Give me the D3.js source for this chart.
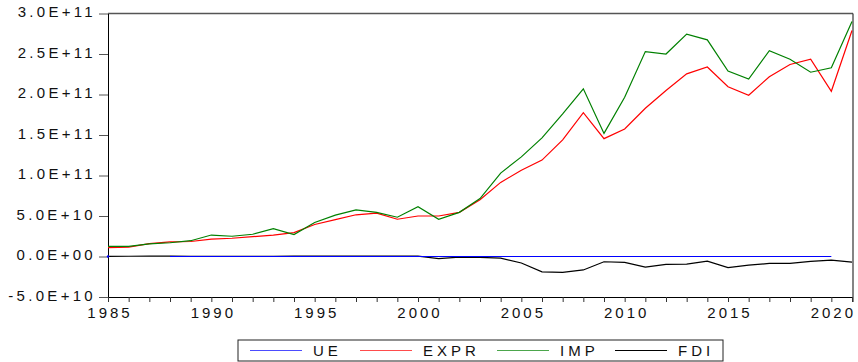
<!DOCTYPE html>
<html>
<head>
<meta charset="utf-8">
<script src="https://cdn.jsdelivr.net/npm/d3@7"></script>
<style>
  body { margin: 0; background: #fff; }
  svg text { font-family: Arial, "Liberation Sans", sans-serif; fill: #111; }
</style>
</head>
<body>
<svg id="chart" width="858" height="362"></svg>
<script>
// data (values in units, billions * 1e9)
var years = [1985, 1986, 1987, 1988, 1989, 1990, 1991, 1992, 1993, 1994, 1995, 1996,
  1997, 1998, 1999, 2000, 2001, 2002, 2003, 2004, 2005, 2006, 2007, 2008, 2009, 2010,
  2011, 2012, 2013, 2014, 2015, 2016, 2017, 2018, 2019, 2020, 2021];

var ue = [9.7, null, null, 10.2, 9.8, 9.5, 9.6, 10.1, 10.4, 10.6, 10.8, 10.9,
  11.0, 10.7, 10.3, 9.9, 9.6, 9.2, 8.8, 8.4, 8.1, 7.9, 7.6, 7.2, 7.0, 6.8,
  6.6, 6.5, 6.3, 6.2, 6.1, 6.0, 5.9, 5.8, 5.7, 5.9, null];

var expr = [11, 11.5, 16, 18, 18.5, 21.5, 22.5, 24.5, 26.5, 29.5, 39.5, 45.5,
  51.5, 53.5, 46, 50, 50, 54.5, 70, 91.5, 106.5, 119, 144, 177.5, 145.5, 157.5,
  183, 205, 225.5, 234, 209.5, 199, 222, 237, 243.5, 204, 279];

var imp = [12.5, 12.5, 15.5, 17, 19.5, 26.5, 25, 27.5, 34.5, 27, 42, 51,
  57.5, 54.5, 48.5, 61.5, 46, 54.5, 71.5, 103, 123, 146.5, 176, 207, 152, 196.5,
  253, 250, 274.5, 267.5, 229, 219, 254, 243.5, 227.5, 233, 290];

var fdi = [0.2, 0.3, 0.4, 0.4, 0.1, 0.1, 0.1, 0.2, 0.3, 0.4, 0.5, 0.5,
  0.6, 0.5, 0.6, 0.5, -2.5, -0.8, -1.2, -2, -8, -18.9, -19.5, -16.6, -6.5, -7.2,
  -13, -9.8, -9.4, -5.8, -13.8, -10.6, -8.6, -8.5, -6.1, -4.5, -6.9];

var yTicks = [-5e10, 0, 5e10, 1e11, 1.5e11, 2e11, 2.5e11, 3e11];

var series = [
  { name: "FDI", values: fdi, scale: 1e9, color: "#000000" },
  { name: "EXPR", values: expr, scale: 1e9, color: "#ff0000" },
  { name: "IMP", values: imp, scale: 1e9, color: "#008000" },
  { name: "UE", values: ue, scale: 1, color: "#0000ff" }
];
var legendOrder = ["UE", "EXPR", "IMP", "FDI"];

var svg = d3.select("#chart");
var mLeft = 108, mRight = 852, mTop = 13.5, mBottom = 297;

var x = d3.scaleLinear().domain([1985, 2021]).range([mLeft, mRight]);
var y = d3.scaleLinear().domain([-5e10, 3e11]).range([mBottom, mTop]);

function sci(v) {
  if (v === 0) return "0.0E+00";
  var e = Math.floor(Math.log10(Math.abs(v)));
  var m = v / Math.pow(10, e);
  return m.toFixed(1) + "E+" + (e < 10 ? "0" + e : e);
}

// frame top and right
svg.append("line").attr("x1", mLeft).attr("x2", mRight + 1).attr("y1", mTop).attr("y2", mTop)
  .attr("stroke", "#555").attr("stroke-width", 1.6);
svg.append("line").attr("x1", mRight + 1).attr("x2", mRight + 1).attr("y1", mTop).attr("y2", mBottom + 5)
  .attr("stroke", "#333").attr("stroke-width", 1.2);

var yAxis = svg.append("g").attr("transform", "translate(" + mLeft + ",0)")
  .call(d3.axisLeft(y).tickValues(yTicks).tickFormat(sci).tickSize(9).tickPadding(3).tickSizeOuter(0));
yAxis.select(".domain").attr("stroke", "#000");
yAxis.selectAll(".tick line").attr("stroke", "#555");
yAxis.selectAll(".tick text").attr("font-size", 15).attr("letter-spacing", "3.3px").attr("dy", "0.2em");

var xAxis = svg.append("g").attr("transform", "translate(0," + mBottom + ")")
  .call(d3.axisBottom(x).tickValues(years).tickFormat(function (d) { return d % 5 === 0 ? d : ""; })
    .tickSize(5).tickPadding(5).tickSizeOuter(0));
xAxis.select(".domain").attr("stroke", "#000");
xAxis.selectAll(".tick line").attr("stroke", "#333");
xAxis.selectAll(".tick text").attr("font-size", 15).attr("letter-spacing", "3px").attr("dx", "1.5");

var line = d3.line()
  .defined(function (d) { return d.v !== null; })
  .x(function (d) { return x(d.year); })
  .y(function (d) { return y(d.v); });

series.forEach(function (s) {
  var pts = years.map(function (yr, i) {
    return { year: yr, v: s.values[i] === null ? null : s.values[i] * s.scale };
  });
  svg.append("path").datum(pts).attr("d", line)
    .attr("fill", "none").attr("stroke", s.color).attr("stroke-width", 1.2);
  // isolated points
  pts.forEach(function (p, i) {
    if (p.v === null) return;
    var prev = i > 0 ? pts[i - 1].v : null, next = i < pts.length - 1 ? pts[i + 1].v : null;
    if (prev === null && next === null) {
      svg.append("circle").attr("cx", x(p.year)).attr("cy", y(p.v)).attr("r", 1.2).attr("fill", s.color);
    }
  });
});

// legend
var legend = svg.append("g");
legend.append("rect").attr("x", 238).attr("y", 340).attr("width", 485).attr("height", 21)
  .attr("fill", "#fff").attr("stroke", "#222").attr("stroke-width", 1);
var legendX = [250, 360, 497, 615];
legendOrder.forEach(function (name, i) {
  var s = series.find(function (d) { return d.name === name; });
  legend.append("line").attr("x1", legendX[i]).attr("x2", legendX[i] + 52)
    .attr("y1", 350.5).attr("y2", 350.5).attr("stroke", s.color).attr("stroke-width", 1.2)
    .attr("stroke-opacity", name === "FDI" ? 1 : 0.7);
  legend.append("text").attr("x", legendX[i] + 63).attr("y", 356)
    .attr("font-size", 15).attr("letter-spacing", "4px").text(name);
});
</script>
</body>
</html>
